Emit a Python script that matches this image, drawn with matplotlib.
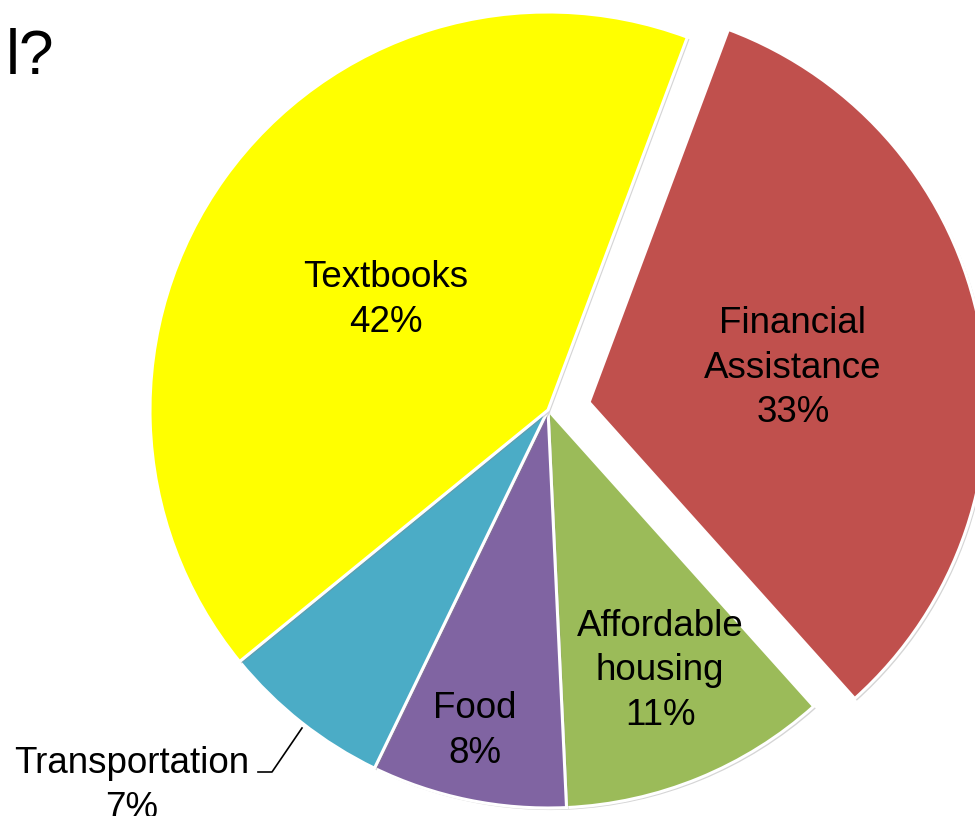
import matplotlib
matplotlib.use("Agg")
import matplotlib.pyplot as plt
import matplotlib.patheffects as pe

plt.rcParams['font.family'] = ['Liberation Sans', 'DejaVu Sans']

categories = ["Financial\nAssistance", "Affordable\nhousing", "Food", "Transportation", "Textbooks"]
values = [33, 11, 8, 7, 42]
colors = ["#C0504D", "#9BBB59", "#8064A2", "#4BACC6", "#FFFF00"]
explode_frac = [0.105, 0, 0, 0, 0]

W, H = 975, 816
fig = plt.figure(figsize=(W / 100, H / 100), dpi=100)
ax = fig.add_axes([0, 0, 1, 1])

cx, cy, R = 548, -410, 398
wedges, _ = ax.pie(values, colors=colors, explode=[e * R for e in explode_frac],
                   startangle=69.5, counterclock=False, center=(cx, cy), radius=R,
                   wedgeprops=dict(edgecolor='white', linewidth=2.2),
                   frame=True)
for w in wedges:
    w.set_path_effects([pe.SimplePatchShadow(offset=(1.5, -1.5), shadow_rgbFace='#888888', alpha=0.35),
                        pe.Normal()])
ax.set_xlim(0, W)
ax.set_ylim(-H, 0)
ax.set_aspect('equal')
ax.axis('off')

total = sum(values)
label_pos = [(793, -368), (660, -671), (475, -731), (132, -786), (386, -300)]
for cat, v, (x, y) in zip(categories, values, label_pos):
    pct = round(v / total * 100)
    ax.text(x, y, f"{cat}\n{pct}%", ha='center', va='center', fontsize=26.5,
            color='black', linespacing=1.36, multialignment='center')

# leader line for Transportation
ax.plot([258, 272, 302], [-772, -772, -728], color='black', lw=1.2)

# cropped slide title fragment
ax.text(6, -57, "l?", fontsize=45, ha='left', va='center', color='black')

fig.savefig("out.png", dpi=100)
